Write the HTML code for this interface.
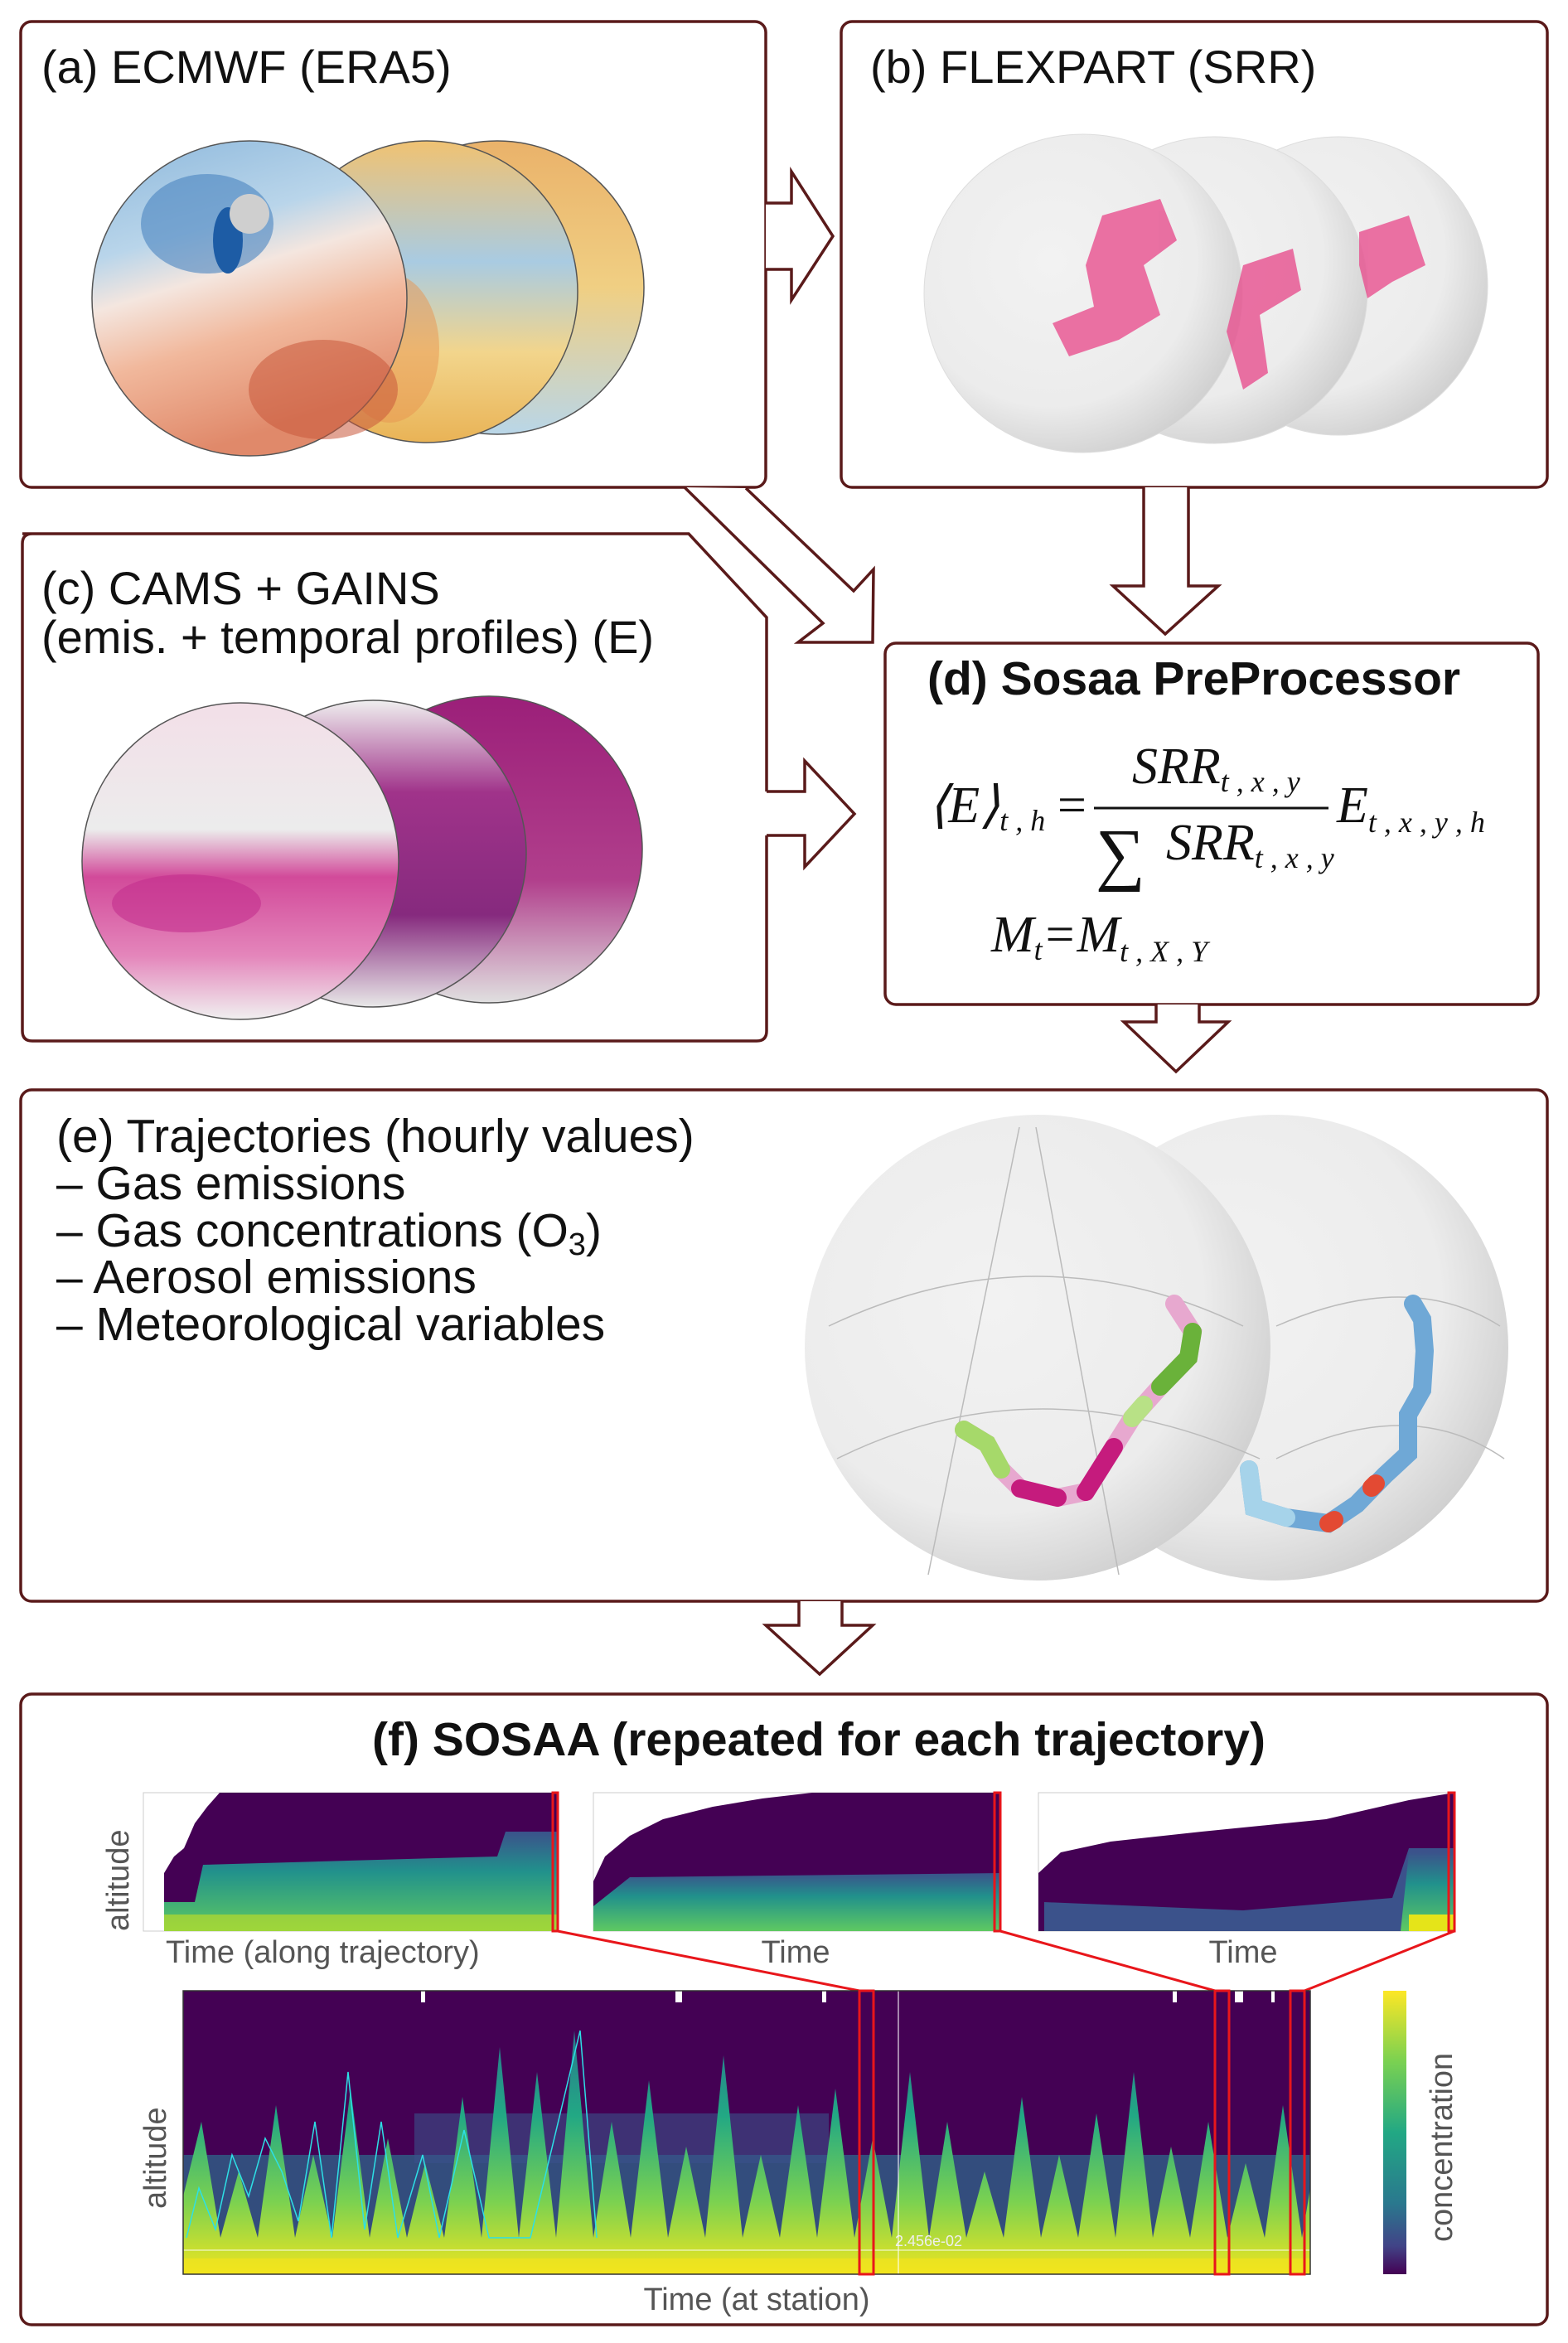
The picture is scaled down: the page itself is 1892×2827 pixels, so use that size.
<!DOCTYPE html>
<html><head><meta charset="utf-8"><style>
html,body{margin:0;padding:0;background:#fff;}
svg{display:block;}
text{font-family:"Liberation Sans",sans-serif;}
.s{font-family:"Liberation Serif",serif;font-style:italic;}
</style></head><body>
<svg width="1892" height="2827" viewBox="0 0 1892 2827" xmlns="http://www.w3.org/2000/svg">
<defs>
<radialGradient id="gGrey" cx="0.4" cy="0.4" r="0.65"><stop offset="0" stop-color="#f2f2f2"/><stop offset="0.7" stop-color="#ececec"/><stop offset="1" stop-color="#cfcfcf"/></radialGradient>
<linearGradient id="aL" x1="0" y1="0" x2="0.3" y2="1"><stop offset="0" stop-color="#8db8dc"/><stop offset="0.35" stop-color="#b9d5ea"/><stop offset="0.5" stop-color="#f4e6df"/><stop offset="0.7" stop-color="#f1b89c"/><stop offset="1" stop-color="#e0896a"/></linearGradient>
<linearGradient id="aM" x1="0" y1="0" x2="0" y2="1"><stop offset="0" stop-color="#f0c272"/><stop offset="0.4" stop-color="#a9cbe2"/><stop offset="0.7" stop-color="#f2d58c"/><stop offset="1" stop-color="#e9b356"/></linearGradient>
<linearGradient id="aR" x1="0" y1="0" x2="0" y2="1"><stop offset="0" stop-color="#eab26a"/><stop offset="0.5" stop-color="#f0cf83"/><stop offset="1" stop-color="#b9d6e8"/></linearGradient>
<linearGradient id="cL" x1="0" y1="0" x2="0" y2="1"><stop offset="0" stop-color="#f3dfe8"/><stop offset="0.4" stop-color="#ececec"/><stop offset="0.55" stop-color="#d24a9a"/><stop offset="0.8" stop-color="#e486bb"/><stop offset="1" stop-color="#f0f0f0"/></linearGradient>
<linearGradient id="cM" x1="0" y1="0" x2="0" y2="1"><stop offset="0" stop-color="#efefef"/><stop offset="0.3" stop-color="#a0338a"/><stop offset="0.7" stop-color="#862a7e"/><stop offset="1" stop-color="#e8e8e8"/></linearGradient>
<linearGradient id="cR" x1="0" y1="0" x2="0" y2="1"><stop offset="0" stop-color="#9b1f79"/><stop offset="0.6" stop-color="#b13f8c"/><stop offset="1" stop-color="#e0e0e0"/></linearGradient>
<linearGradient id="vir" x1="0" y1="0" x2="0" y2="1"><stop offset="0" stop-color="#fde725"/><stop offset="0.25" stop-color="#7ad151"/><stop offset="0.5" stop-color="#22a884"/><stop offset="0.75" stop-color="#2a788e"/><stop offset="0.9" stop-color="#414487"/><stop offset="1" stop-color="#440154"/></linearGradient>
<linearGradient id="peak" x1="0" y1="0" x2="0" y2="1"><stop offset="0" stop-color="#2a788e"/><stop offset="0.35" stop-color="#22a884"/><stop offset="0.7" stop-color="#7ad151"/><stop offset="1" stop-color="#f0e51f"/></linearGradient>
<linearGradient id="band" x1="0" y1="0" x2="0" y2="1"><stop offset="0" stop-color="#3b528b"/><stop offset="0.4" stop-color="#21918c"/><stop offset="1" stop-color="#5ec962"/></linearGradient>
</defs>

<g fill="none" stroke="#5a1a1a" stroke-width="3.5" stroke-linejoin="miter">
<rect x="25" y="26" width="899" height="562" rx="13"/>
<rect x="1015" y="26" width="852" height="562" rx="13"/>
<path d="M27 644 L831 644 L925 745 L925 955 M925 1008 L925 1244 Q925 1256 913 1256 L39 1256 Q27 1256 27 1244 L27 656 Q27 644 39 644"/>
<rect x="1068" y="776" width="788" height="436" rx="13"/>
<rect x="25" y="1315" width="1842" height="617" rx="13"/>
<rect x="25" y="2044" width="1842" height="761" rx="13"/>
<path d="M924 245 L955 245 L955 207 L1005 285 L955 362 L955 325 L924 325" fill="#fff"/>
<path d="M925 955 L971 955 L971 918 L1031 982 L971 1046 L971 1008 L925 1008"/>
<path d="M900 589 L1030 713 L1054 687 L1053 775 L963 775 L993 752 L826 588" fill="#fff"/>
<path d="M1380 588 L1380 707 L1343 707 L1406 765 L1470 707 L1434 707 L1434 588" fill="#fff"/>
<path d="M1395 1212 L1395 1233 L1356 1233 L1419 1293 L1482 1233 L1447 1233 L1447 1212" fill="#fff"/>
<path d="M964 1932 L964 1961 L924 1961 L989 2020 L1053 1961 L1016 1961 L1016 1932" fill="#fff"/>
</g>

<circle cx="600" cy="347" r="177" fill="url(#aR)" stroke="#555" stroke-width="1.5"/>
<circle cx="515" cy="352" r="182" fill="url(#aM)" stroke="#555" stroke-width="1.5"/>
<ellipse cx="470" cy="420" rx="60" ry="90" fill="#e8944f" opacity="0.5"/>
<circle cx="301" cy="360" r="190" fill="url(#aL)" stroke="#555" stroke-width="1.5"/>
<ellipse cx="250" cy="270" rx="80" ry="60" fill="#4a84c0" opacity="0.6"/>
<ellipse cx="275" cy="290" rx="18" ry="40" fill="#1d5ca5"/>
<ellipse cx="390" cy="470" rx="90" ry="60" fill="#c8573b" opacity="0.55"/>
<circle cx="301" cy="258" r="24" fill="#cfcfcf"/>

<circle cx="1615" cy="345" r="180" fill="url(#gGrey)" stroke="#ddd"/>
<circle cx="1465" cy="350" r="185" fill="url(#gGrey)" stroke="#ddd"/>
<circle cx="1307" cy="354" r="192" fill="url(#gGrey)" stroke="#ddd"/>
<g fill="#e8508f" opacity="0.8">
<path d="M1330 260 L1400 240 L1420 290 L1380 320 L1400 380 L1350 410 L1290 430 L1270 390 L1320 370 L1310 320 Z"/>
<path d="M1500 320 L1560 300 L1570 350 L1520 380 L1530 450 L1500 470 L1480 400 L1490 360 Z"/>
<path d="M1640 280 L1700 260 L1720 320 L1680 340 L1650 360 L1640 320 Z"/>
</g>

<circle cx="590" cy="1025" r="185" fill="url(#cR)" stroke="#555" stroke-width="1.5"/>
<circle cx="450" cy="1030" r="185" fill="url(#cM)" stroke="#555" stroke-width="1.5"/>
<circle cx="290" cy="1039" r="191" fill="url(#cL)" stroke="#555" stroke-width="1.5"/>
<ellipse cx="225" cy="1090" rx="90" ry="35" fill="#c32f8e" opacity="0.6"/>

<circle cx="1539" cy="1626" r="281" fill="url(#gGrey)"/>
<circle cx="1252" cy="1626" r="281" fill="url(#gGrey)"/>
<g stroke="#bbb" stroke-width="1.5" fill="none">
<path d="M1000 1600 Q1252 1480 1500 1600"/><path d="M1010 1760 Q1252 1640 1520 1760"/>
<line x1="1230" y1="1360" x2="1120" y2="1900"/><line x1="1250" y1="1360" x2="1350" y2="1900"/>
<path d="M1540 1600 Q1700 1530 1810 1600"/><path d="M1540 1760 Q1700 1680 1815 1760"/>
</g>
<g stroke-linecap="round" fill="none" stroke-width="22">
<polyline points="1163,1725 1191,1742 1208,1773 1231,1796 1276,1807 1310,1800 1344,1746 1366,1711 1400,1673 1434,1638 1439,1607 1417,1573" stroke="#e7a8cf"/>
<polyline points="1163,1725 1191,1742 1208,1773" stroke="#a6d96a"/>
<polyline points="1231,1796 1276,1807" stroke="#c51b7d"/>
<polyline points="1310,1800 1344,1746" stroke="#c51b7d"/>
<polyline points="1400,1673 1434,1638 1439,1607" stroke="#6ab23a"/>
<polyline points="1366,1711 1380,1695" stroke="#b8e186"/>
<polyline points="1507,1773 1513,1819 1552,1831 1603,1838 1637,1815 1671,1780 1699,1754 1699,1707 1716,1677 1719,1630 1716,1592 1705,1573" stroke="#6fa8d6"/>
<polyline points="1507,1773 1513,1819 1552,1831" stroke="#a6d3ea"/>
<polyline points="1603,1838 1610,1834" stroke="#e34a33"/>
<polyline points="1655,1795 1660,1790" stroke="#e34a33"/>
</g>

<g font-size="56" fill="#111">
<text x="50" y="100">(a) ECMWF (ERA5)</text>
<text x="1050" y="100">(b) FLEXPART (SRR)</text>
<text x="50" y="729">(c) CAMS + GAINS</text>
<text x="50" y="788">(emis. + temporal profiles) (E)</text>
</g>
<text x="1119" y="838" font-size="57" font-weight="bold" fill="#111">(d) Sosaa PreProcessor</text>
<g fill="#111" class="s">
<text x="1120" y="992" font-size="62" class="s">⟨<tspan>E</tspan>⟩<tspan font-size="36" dy="10">t , h</tspan></text>
<text x="1272" y="992" font-size="62" font-style="normal" class="s">=</text>
<text x="1366" y="945" font-size="62" class="s">SRR<tspan font-size="36" dy="10">t , x , y</tspan></text>
<line x1="1320" y1="975" x2="1603" y2="975" stroke="#111" stroke-width="3"/>
<text x="1322" y="1058" font-size="84" font-style="normal" class="s">∑</text>
<text x="1407" y="1037" font-size="62" class="s">SRR<tspan font-size="36" dy="10">t , x , y</tspan></text>
<text x="1613" y="992" font-size="62" class="s">E<tspan font-size="36" dy="12">t , x , y , h</tspan></text>
<text x="1196" y="1148" font-size="62" class="s">M<tspan font-size="36" dy="10">t</tspan><tspan font-size="62" dy="-10">=M</tspan><tspan font-size="36" dy="12">t , X , Y</tspan></text>
</g>

<g font-size="57" fill="#111">
<text x="68" y="1390">(e) Trajectories (hourly values)</text>
<text x="68" y="1447">– Gas emissions</text>
<text x="68" y="1504">– Gas concentrations (O<tspan font-size="38" dy="10">3</tspan><tspan dy="-10">)</tspan></text>
<text x="68" y="1560">– Aerosol emissions</text>
<text x="68" y="1617">– Meteorological variables</text>
</g>

<text x="988" y="2118" font-size="57" font-weight="bold" fill="#111" text-anchor="middle">(f) SOSAA (repeated for each trajectory)</text>

<g>
<rect x="173" y="2163" width="500" height="167" fill="#fff" stroke="#ccc"/>
<path d="M198 2330 L198 2260 L210 2240 L222 2230 L235 2200 L250 2180 L265 2163 L673 2163 L673 2330 Z" fill="#440154"/>
<path d="M198 2330 L198 2295 L235 2295 L245 2250 L420 2245 L600 2240 L610 2210 L673 2210 L673 2330 Z" fill="url(#band)"/>
<rect x="198" y="2310" width="475" height="20" fill="#c9e020" opacity="0.6"/>
<rect x="716" y="2163" width="491" height="167" fill="#fff" stroke="#ccc"/>
<path d="M716 2330 L716 2270 L730 2240 L760 2215 L800 2195 L860 2180 L920 2170 L980 2163 L1207 2163 L1207 2330 Z" fill="#440154"/>
<path d="M716 2330 L716 2300 L760 2265 L1207 2260 L1207 2330 Z" fill="url(#band)"/>
<rect x="1253" y="2163" width="502" height="167" fill="#fff" stroke="#ccc"/>
<path d="M1253 2330 L1253 2260 L1280 2235 L1340 2222 L1450 2210 L1600 2195 L1700 2172 L1755 2163 L1755 2330 Z" fill="#440154"/>
<path d="M1260 2330 L1260 2295 L1500 2305 L1680 2290 L1700 2230 L1755 2230 L1755 2330 Z" fill="#3b528b"/>
<path d="M1690 2330 L1700 2235 L1755 2235 L1755 2330 Z" fill="url(#band)"/>
<rect x="1700" y="2310" width="55" height="20" fill="#e5e419"/>
</g>
<g fill="none" stroke="#e8161b" stroke-width="3">
<rect x="667" y="2163" width="6" height="167"/>
<rect x="1200" y="2163" width="7" height="167"/>
<rect x="1748" y="2163" width="7" height="167"/>
<line x1="673" y1="2330" x2="1037" y2="2402"/>
<line x1="1207" y1="2330" x2="1466" y2="2402"/>
<line x1="1755" y1="2330" x2="1574" y2="2402"/>
</g>
<g font-size="38" fill="#555">
<text x="200" y="2368">Time (along trajectory)</text>
<text x="960" y="2368" text-anchor="middle">Time</text>
<text x="1500" y="2368" text-anchor="middle">Time</text>
<text x="913" y="2787" text-anchor="middle">Time (at station)</text>
<text transform="translate(155,2330) rotate(-90)">altitude</text>
<text transform="translate(200,2665) rotate(-90)">altitude</text>
<text transform="translate(1752,2705) rotate(-90)">concentration</text>
</g>

<rect x="221" y="2402" width="1360" height="342" fill="#440154"/>
<rect x="221" y="2600" width="1360" height="144" fill="#2c6e8e" opacity="0.7"/>
<rect x="500" y="2550" width="500" height="60" fill="#3b528b" opacity="0.6"/>
<path d="M221 2744 L221 2650 L243 2560 L266 2700 L288 2620 L311 2700 L333 2540 L356 2700 L378 2600 L401 2700 L423 2520 L446 2700 L468 2580 L491 2700 L513 2610 L536 2700 L558 2530 L581 2700 L603 2470 L626 2700 L648 2500 L671 2700 L693 2450 L716 2700 L738 2560 L761 2700 L783 2510 L806 2700 L828 2590 L851 2700 L873 2480 L896 2700 L918 2600 L941 2700 L963 2540 L986 2700 L1008 2520 L1031 2700 L1053 2580 L1076 2700 L1098 2500 L1121 2700 L1143 2560 L1166 2700 L1188 2620 L1211 2700 L1233 2530 L1256 2700 L1278 2600 L1301 2700 L1323 2550 L1346 2700 L1368 2500 L1391 2700 L1413 2590 L1436 2700 L1458 2560 L1481 2700 L1503 2610 L1526 2700 L1548 2540 L1571 2700 L1581 2640 L1581 2744 Z" fill="url(#peak)"/>
<rect x="221" y="2725" width="1360" height="19" fill="#f2e41d" opacity="0.7"/>
<line x1="221" y1="2715" x2="1581" y2="2715" stroke="#fff" stroke-width="1.5" opacity="0.6"/>
<text x="1080" y="2710" font-size="18" fill="#eee">2.456e-02</text>
<polyline points="225,2700 240,2640 260,2690 280,2600 300,2650 320,2580 340,2620 360,2680 380,2560 400,2700 420,2500 440,2690 460,2560 480,2700 510,2600 530,2700 560,2570 590,2700 640,2700 700,2450 720,2700" fill="none" stroke="#2de0e6" stroke-width="1.5"/>
<g fill="#fff"><rect x="508" y="2402" width="5" height="14"/><rect x="815" y="2402" width="8" height="14"/><rect x="992" y="2402" width="5" height="14"/><rect x="1415" y="2402" width="5" height="14"/><rect x="1490" y="2402" width="10" height="14"/><rect x="1534" y="2402" width="4" height="14"/></g>
<line x1="1084" y1="2402" x2="1084" y2="2744" stroke="#fff" stroke-width="1.5" opacity="0.7"/>
<rect x="221" y="2402" width="1360" height="342" fill="none" stroke="#333" stroke-width="1.5"/>
<g fill="none" stroke="#e8161b" stroke-width="3">
<rect x="1037" y="2402" width="17" height="342"/>
<rect x="1466" y="2402" width="17" height="342"/>
<rect x="1557" y="2402" width="17" height="342"/>
</g>
<rect x="1669" y="2402" width="28" height="342" fill="url(#vir)"/>
</svg>
</body></html>
